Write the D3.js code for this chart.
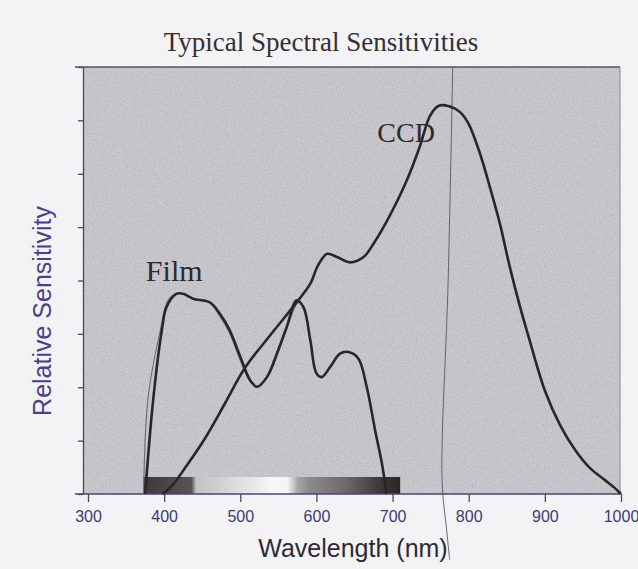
<!DOCTYPE html>
<html>
<head>
<meta charset="utf-8">
<script src="https://cdn.jsdelivr.net/npm/d3@7"></script>
<style>
  body { margin: 0; background: #f3f3f5; }
  svg { display: block; }
</style>
</head>
<body>
<div id="chart"></div>
<script>
// values (y in tick units, 8 ticks tall)
var xTicks = [300, 400, 500, 600, 700, 800, 900, 1000];
var yTicks = [0, 1, 2, 3, 4, 5, 6, 7, 8];

var filmNm  = [375, 386, 397, 403, 416, 425, 438, 460, 473, 486, 500, 513, 522, 535, 548, 561, 574, 583, 592, 600, 607, 618, 631, 642, 655, 666, 677, 686, 692];
var filmVal = [0, 1.82, 3.07, 3.50, 3.75, 3.75, 3.66, 3.59, 3.38, 3.07, 2.57, 2.13, 2.01, 2.19, 2.63, 3.13, 3.63, 3.50, 2.88, 2.26, 2.19, 2.38, 2.63, 2.66, 2.54, 2.01, 1.20, 0.57, 0];

// second, thinner pen trace of the film curve
var traceNm  = [373, 379, 395, 405, 416, 425, 438, 460, 473, 486, 500, 513, 523, 539, 552, 565, 576, 584, 592];
var traceVal = [0, 1.82, 3.07, 3.63, 3.75, 3.75, 3.66, 3.59, 3.33, 3.01, 2.50, 2.11, 2.00, 2.28, 2.73, 3.25, 3.59, 3.44, 2.88];

var ccdNm  = [398, 410, 429, 454, 480, 506, 539, 574, 592, 602, 614, 627, 644, 662, 675, 687, 703, 720, 736, 749, 760, 773, 789, 800, 815, 828, 841, 854, 867, 880, 900, 920, 940, 959, 979, 992, 1000];
var ccdVal = [0, 0.15, 0.52, 1.05, 1.70, 2.36, 2.97, 3.59, 3.94, 4.28, 4.50, 4.44, 4.34, 4.44, 4.69, 4.97, 5.40, 5.92, 6.52, 7.08, 7.27, 7.27, 7.15, 6.93, 6.37, 5.74, 5.06, 4.25, 3.53, 2.88, 1.94, 1.29, 0.82, 0.49, 0.26, 0.11, 0];

// visible-spectrum strip under the curves (grey scan)
var stripRange = [373, 710];
var stripNm    = [373, 400, 436, 442, 470, 490, 520, 540, 562, 575, 590, 640, 680, 710];
var stripGrey  = ["#3e383a", "#4a4446", "#5a5456", "#c4c2c6", "#cfcdd1", "#dcdadd", "#e9e8ea", "#f7f7f7", "#f4f4f4", "#a9a7aa", "#8d8a8d", "#6c686a", "#3f3a3b", "#2a2425"];

// stray fold line in the scan
var foldNm  = [779, 773, 765, 771, 775];
var foldVal = [8, 4, 0.26, -0.67, -1.23];

var W = 638, H = 569;
var margin = {top: 67, right: 18, bottom: 75, left: 83};
var plotRight = W - margin.right, plotBottom = H - margin.bottom;

var x = d3.scaleLinear().domain([300, 1000]).range([88, 621]);
var y = d3.scaleLinear().domain([0, 8]).range([plotBottom, margin.top]);

var svg = d3.select("#chart").append("svg")
    .attr("width", W)
    .attr("height", H);

var defs = svg.append("defs");

var noise = defs.append("filter").attr("id", "grain")
    .attr("x", 0).attr("y", 0).attr("width", "100%").attr("height", "100%");
noise.append("feTurbulence")
    .attr("type", "fractalNoise")
    .attr("baseFrequency", 0.9)
    .attr("numOctaves", 2)
    .attr("seed", 4);
noise.append("feColorMatrix")
    .attr("type", "matrix")
    .attr("values", "0 0 0 0 0.3  0 0 0 0 0.3  0 0 0 0 0.33  0 0 0 1.1 -0.45");

var grad = defs.append("linearGradient").attr("id", "strip")
    .attr("gradientUnits", "userSpaceOnUse")
    .attr("x1", x(stripRange[0])).attr("x2", x(stripRange[1]))
    .attr("y1", 0).attr("y2", 0);
grad.selectAll("stop")
    .data(stripNm)
    .enter().append("stop")
    .attr("offset", function(d) { return (d - stripRange[0]) / (stripRange[1] - stripRange[0]); })
    .attr("stop-color", function(d, i) { return stripGrey[i]; });

// plot background
svg.append("rect")
    .attr("x", margin.left).attr("y", margin.top)
    .attr("width", plotRight - margin.left)
    .attr("height", plotBottom - margin.top)
    .style("fill", "#c9c9ce");
svg.append("rect")
    .attr("x", margin.left).attr("y", margin.top)
    .attr("width", plotRight - margin.left)
    .attr("height", plotBottom - margin.top)
    .attr("filter", "url(#grain)")
    .style("opacity", 0.8);

// spectrum strip
svg.append("rect")
    .attr("x", x(stripRange[0]))
    .attr("y", plotBottom - 17)
    .attr("width", x(stripRange[1]) - x(stripRange[0]))
    .attr("height", 17)
    .style("fill", "url(#strip)");

// frame lines (top and right)
svg.append("line")
    .attr("x1", 75).attr("x2", plotRight)
    .attr("y1", margin.top).attr("y2", margin.top)
    .style("stroke", "#55525a").style("stroke-width", 1.5);
svg.append("line")
    .attr("x1", plotRight).attr("x2", plotRight)
    .attr("y1", margin.top).attr("y2", plotBottom)
    .style("stroke", "#8a8890").style("stroke-width", 1);

// axes
var xAxis = svg.append("g")
    .attr("class", "x axis")
    .attr("transform", "translate(0," + plotBottom + ")")
    .call(d3.axisBottom(x).tickValues(xTicks).tickSize(8).tickSizeOuter(0).tickPadding(9).tickFormat(d3.format("d")));
xAxis.select(".domain").attr("d", "M75,0H" + plotRight);

var yAxis = svg.append("g")
    .attr("class", "y axis")
    .attr("transform", "translate(" + margin.left + ",0)")
    .call(d3.axisLeft(y).tickValues(yTicks).tickSize(5).tickSizeOuter(0).tickFormat(""));

svg.selectAll(".axis .domain, .axis line")
    .style("stroke", "#4a4668").style("stroke-width", 1.3);
xAxis.selectAll("text")
    .style("font-family", "'Liberation Sans', Arial, sans-serif")
    .style("font-size", "16px")
    .style("fill", "#3d3a72");

// curves
var line = d3.line()
    .x(function(d) { return x(d[0]); })
    .y(function(d) { return y(d[1]); })
    .curve(d3.curveCatmullRom.alpha(0.5));

function pairs(a, b) { return a.map(function(v, i) { return [v, b[i]]; }); }

svg.append("path")
    .datum(pairs(foldNm, foldVal))
    .attr("d", line)
    .style("fill", "none").style("stroke", "#5a5660").style("stroke-width", 0.9);

svg.append("path")
    .datum(pairs(traceNm, traceVal))
    .attr("d", line)
    .style("fill", "none").style("stroke", "#6e6a6c").style("stroke-width", 1.1);

svg.append("path")
    .datum(pairs(filmNm, filmVal))
    .attr("d", line)
    .style("fill", "none").style("stroke", "#2b2526").style("stroke-width", 2.6);

svg.append("path")
    .datum(pairs(ccdNm, ccdVal))
    .attr("d", line)
    .style("fill", "none").style("stroke", "#2b2526").style("stroke-width", 2.6);

// curve labels
svg.append("text")
    .attr("x", x(376)).attr("y", y(3.99))
    .style("font-family", "'Liberation Serif', 'Times New Roman', serif")
    .style("font-size", "30px")
    .style("fill", "#2e2a2c")
    .text("Film");

svg.append("text")
    .attr("x", x(680)).attr("y", y(6.6))
    .style("font-family", "'Liberation Serif', 'Times New Roman', serif")
    .style("font-size", "28px")
    .style("fill", "#2e2a2c")
    .text("CCD");

// titles
svg.append("text")
    .attr("x", 321).attr("y", 51)
    .attr("text-anchor", "middle")
    .style("font-family", "'Liberation Serif', 'Times New Roman', serif")
    .style("font-size", "27px")
    .style("fill", "#333033")
    .text("Typical Spectral Sensitivities");

svg.append("text")
    .attr("x", 353).attr("y", 557)
    .attr("text-anchor", "middle")
    .style("font-family", "'Liberation Sans', Arial, sans-serif")
    .style("font-size", "25px")
    .style("fill", "#2d2a35")
    .text("Wavelength (nm)");

svg.append("text")
    .attr("transform", "translate(51,311)rotate(-90)")
    .attr("text-anchor", "middle")
    .style("font-family", "'Liberation Sans', Arial, sans-serif")
    .style("font-size", "25px")
    .style("fill", "#4a3f8c")
    .text("Relative Sensitivity");
</script>
</body>
</html>
